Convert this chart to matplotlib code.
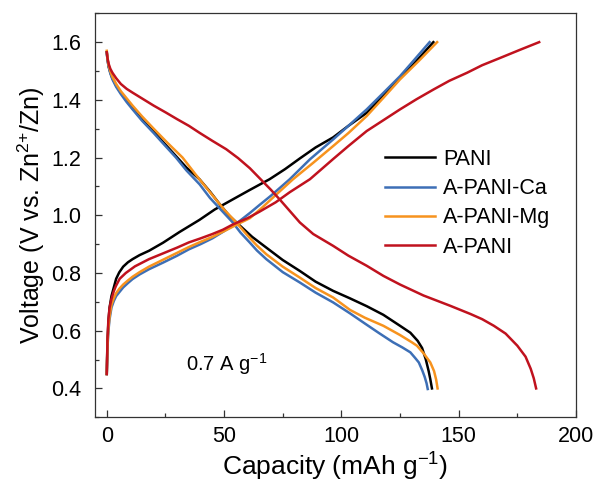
import numpy as np
import matplotlib
matplotlib.use('Agg')
import matplotlib.pyplot as plt
from matplotlib.ticker import MultipleLocator, FormatStrFormatter

plt.rcParams['font.family'] = ['Liberation Sans', 'DejaVu Sans']
plt.rcParams['mathtext.default'] = 'regular'

# charge curves (capacity mAh/g, voltage V)
pani_chg_x = [0, 0.3, 0.7, 1.2, 2, 3, 4, 5.3, 7, 9, 11, 14, 18, 24, 31, 39.5, 46, 53.7, 61, 69.4, 76, 82.3, 89, 96.5, 103, 110.8, 118, 125, 132, 139.2]
pani_chg_v = [0.45, 0.56, 0.63, 0.68, 0.72, 0.75, 0.78, 0.802, 0.822, 0.837, 0.848, 0.862, 0.877, 0.905, 0.942, 0.984, 1.02, 1.055, 1.088, 1.125, 1.16, 1.197, 1.235, 1.27, 1.31, 1.355, 1.415, 1.475, 1.535, 1.6]
ca_chg_x = [0, 0.3, 0.7, 1.2, 2, 3, 4, 5.3, 7, 9, 11, 14, 18, 24, 30, 35, 40, 45, 50, 53, 56.6, 61, 65, 70, 78, 86.6, 96.5, 103, 110.8, 118, 125, 131, 137.6]
ca_chg_v = [0.45, 0.54, 0.6, 0.64, 0.68, 0.703, 0.72, 0.733, 0.75, 0.765, 0.779, 0.795, 0.813, 0.836, 0.86, 0.882, 0.9, 0.92, 0.945, 0.96, 0.98, 1.008, 1.035, 1.068, 1.125, 1.194, 1.263, 1.31, 1.367, 1.425, 1.482, 1.538, 1.6]
mg_chg_x = [0, 0.3, 0.7, 1.2, 2, 3, 4, 5.3, 7, 9, 11, 14, 18, 24, 30, 35, 40, 45, 50, 56, 61, 66, 72, 79.4, 88, 96.5, 103, 110.8, 118, 125, 133, 140.8]
mg_chg_v = [0.45, 0.55, 0.61, 0.65, 0.69, 0.713, 0.73, 0.745, 0.76, 0.774, 0.787, 0.803, 0.822, 0.846, 0.87, 0.89, 0.908, 0.925, 0.945, 0.97, 0.99, 1.025, 1.07, 1.125, 1.182, 1.24, 1.285, 1.344, 1.408, 1.471, 1.535, 1.6]
a_chg_x = [0, 0.3, 0.7, 1.2, 2, 3, 3.9, 5.5, 8.1, 12, 18, 24, 30, 35, 40, 45, 49.5, 53.7, 60, 65, 72, 78, 86.6, 96.5, 103, 110.8, 118, 125, 132, 139.3, 146, 153.6, 160, 167.9, 176, 184.3]
a_chg_v = [0.45, 0.57, 0.64, 0.68, 0.71, 0.737, 0.755, 0.78, 0.8, 0.823, 0.848, 0.868, 0.888, 0.906, 0.92, 0.935, 0.95, 0.968, 0.99, 1.012, 1.045, 1.08, 1.125, 1.195, 1.24, 1.292, 1.33, 1.367, 1.402, 1.436, 1.466, 1.494, 1.52, 1.546, 1.573, 1.6]

# discharge curves
pani_dis_x = [0, 0.3, 0.8, 1.5, 2.4, 4, 6, 8.5, 11, 15, 20, 25, 29.5, 34, 39.5, 44, 48, 52, 56.9, 62, 68, 75, 82.3, 89, 96.5, 103.7, 110.8, 117.9, 125, 129.4, 132.5, 134.4, 136, 137.2, 137.9, 138.6]
pani_dis_v = [1.565, 1.54, 1.515, 1.495, 1.475, 1.45, 1.425, 1.397, 1.37, 1.332, 1.29, 1.245, 1.205, 1.165, 1.125, 1.082, 1.04, 1.0, 0.963, 0.925, 0.888, 0.845, 0.807, 0.77, 0.738, 0.712, 0.685, 0.655, 0.617, 0.593, 0.565, 0.54, 0.5, 0.46, 0.432, 0.4]
ca_dis_x = [0, 0.3, 0.8, 1.5, 2.4, 4, 6, 8.5, 11, 15, 20, 25, 29.5, 34, 39.6, 44, 48, 53.7, 57, 60.9, 64, 68, 75, 82.3, 89, 96.5, 103.7, 110, 116, 122, 126, 129.4, 131.5, 133, 134.5, 135.5, 136.3, 136.8]
ca_dis_v = [1.565, 1.54, 1.515, 1.492, 1.471, 1.445, 1.42, 1.392, 1.367, 1.328, 1.285, 1.24, 1.2, 1.155, 1.107, 1.06, 1.025, 0.975, 0.94, 0.906, 0.878, 0.848, 0.803, 0.767, 0.732, 0.698, 0.66, 0.625, 0.592, 0.56, 0.542, 0.525, 0.505, 0.49, 0.462, 0.44, 0.418, 0.398]
mg_dis_x = [0, 0.3, 0.8, 1.5, 2.4, 4, 6, 8.5, 11, 15, 20, 26, 32.3, 38, 45, 50, 55.2, 60, 64, 68, 75, 82.3, 89, 96.5, 103.7, 110, 117.9, 125, 130, 132.2, 135, 137.9, 139.5, 140.4, 141]
mg_dis_v = [1.57, 1.545, 1.52, 1.5, 1.48, 1.455, 1.43, 1.405, 1.38, 1.343, 1.3, 1.25, 1.2, 1.14, 1.07, 1.02, 0.975, 0.93, 0.895, 0.865, 0.822, 0.784, 0.748, 0.715, 0.672, 0.645, 0.617, 0.585, 0.56, 0.548, 0.522, 0.49, 0.46, 0.43, 0.4]
a_dis_x = [0, 0.3, 0.8, 1.5, 2.4, 4, 6, 8.5, 11, 15, 20, 25.2, 30, 35, 39.5, 45, 50.9, 56, 61, 65.2, 70, 73.7, 78, 82.3, 88, 96.5, 103, 110.8, 117.9, 125, 135, 146.5, 155, 160, 165, 170, 175, 178.5, 180.7, 182, 183]
a_dis_v = [1.565, 1.545, 1.525, 1.508, 1.494, 1.475, 1.455, 1.438, 1.425, 1.405, 1.38, 1.356, 1.333, 1.31, 1.286, 1.258, 1.229, 1.198, 1.163, 1.128, 1.088, 1.055, 1.015, 0.975, 0.935, 0.894, 0.86, 0.825, 0.79, 0.76, 0.722, 0.686, 0.658, 0.64, 0.617, 0.59, 0.548, 0.51, 0.468, 0.435, 0.4]

labels = ['PANI', 'A-PANI-Ca', 'A-PANI-Mg', 'A-PANI']
colors = ['#000000', '#3d6fb6', '#f7931e', '#c0121e']

fig = plt.figure(figsize=(5.94, 4.90), dpi=100)
ax = fig.add_axes([0.16, 0.1484, 0.8097, 0.8245])

series = [
    (pani_chg_x, pani_chg_v, pani_dis_x, pani_dis_v),
    (ca_chg_x, ca_chg_v, ca_dis_x, ca_dis_v),
    (mg_chg_x, mg_chg_v, mg_dis_x, mg_dis_v),
    (a_chg_x, a_chg_v, a_dis_x, a_dis_v),
]
for (cx, cv, dx, dv), lab, col in zip(series, labels, colors):
    ax.plot(cx, cv, color=col, lw=1.8, label=lab, solid_joinstyle='round')
    ax.plot(dx, dv, color=col, lw=1.8, solid_joinstyle='round')

ax.set_xlim(-5, 200)
ax.set_ylim(0.3, 1.7)
ax.xaxis.set_major_locator(MultipleLocator(50))
ax.xaxis.set_minor_locator(MultipleLocator(25))
ax.yaxis.set_major_locator(MultipleLocator(0.2))
ax.yaxis.set_minor_locator(MultipleLocator(0.1))
ax.yaxis.set_major_formatter(FormatStrFormatter('%.1f'))
ax.tick_params(which='both', direction='in', labelsize=15.5, top=False, right=False, color='#333333')
ax.tick_params(which='major', length=5, width=0.9)
ax.tick_params(which='minor', length=3, width=0.9)
ax.tick_params(axis='y', pad=10)
ax.tick_params(axis='x', pad=6)
for s in ax.spines.values():
    s.set_linewidth(0.9)
    s.set_color('#333333')

ax.set_xlabel('Capacity (mAh g$^{-1}$)', fontsize=19, labelpad=3)
ax.set_ylabel('Voltage (V vs. Zn$^{2{+}}$/Zn)', fontsize=18, labelpad=3)

ax.text(33.8, 0.484, '0.7 A g$^{-1}$', fontsize=14.5, va='center', ha='left')

ax.legend(loc='upper left', bbox_to_anchor=(0.603, 0.664), frameon=False, fontsize=15.5,
          handlelength=2.3, handletextpad=0.4, labelspacing=0.38, borderaxespad=0, borderpad=0)

fig.savefig('out.png', dpi=100)
